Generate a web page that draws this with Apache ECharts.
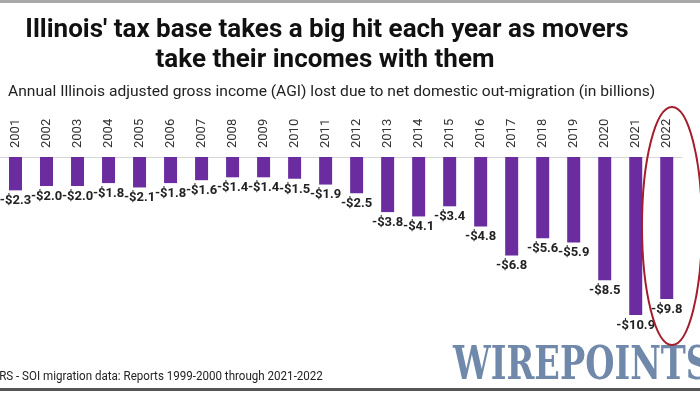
<!DOCTYPE html>
<html><head><meta charset="utf-8">
<script src="https://cdn.jsdelivr.net/npm/echarts@6/dist/echarts.min.js"></script>
<style>html,body{margin:0;padding:0;background:#fff}#c{width:700px;height:394px}</style>
</head><body><div id="c"></div>
<script>
var years = ['2001','2002','2003','2004','2005','2006','2007','2008','2009','2010','2011','2012','2013','2014','2015','2016','2017','2018','2019','2020','2021','2022'];
var agiLost = [-2.3,-2.0,-2.0,-1.8,-2.1,-1.8,-1.6,-1.4,-1.4,-1.5,-1.9,-2.5,-3.8,-4.1,-3.4,-4.8,-6.8,-5.6,-5.9,-8.5,-10.9,-9.8];
var titleLines = ["Illinois' tax base takes a big hit each year as movers", "take their incomes with them"];
var subtitle = "Annual Illinois adjusted gross income (AGI) lost due to net domestic out-migration (in billions)";
var source = "IRS - SOI migration data: Reports 1999-2000 through 2021-2022";

var chart = echarts.init(document.getElementById('c'));
chart.setOption({
  animation: false,
  backgroundColor: '#fff',
  grid: {left: -10.75, width: 693, top: 157, height: 174, containLabel: false},
  xAxis: {
    type: 'category', data: years, position: 'top',
    axisLine: {lineStyle: {color: '#d6d6d6', width: 1}},
    axisTick: {show: false},
    axisLabel: {rotate: 90, margin: 9, color: '#333', fontSize: 13, fontFamily: 'Roboto', interval: 0}
  },
  yAxis: {type: 'value', min: -12, max: 0, show: false, splitLine: {show: false}},
  series: [{
    type: 'bar', data: agiLost, barWidth: 13,
    itemStyle: {color: '#6a2c9f'},
    label: {
      show: true, position: 'bottom', distance: 4,
      color: '#222', fontSize: 13, fontWeight: 'bold', fontFamily: 'Roboto',
      formatter: function (p) { return '-$' + Math.abs(p.value).toFixed(1); }
    }
  }],
  graphic: [
    {type: 'rect', shape: {x: 0, y: 0, width: 700, height: 3}, style: {fill: '#a8a8a8'}},
    {type: 'rect', shape: {x: 0, y: 388, width: 700, height: 3}, style: {fill: '#555'}},
    {type: 'text', x: 327, y: 31, scaleX: 1.04, style: {text: titleLines[0], font: 'bold 25px Roboto', fill: '#111', textAlign: 'center', textVerticalAlign: 'middle'}},
    {type: 'text', x: 325, y: 61, scaleX: 1.04, style: {text: titleLines[1], font: 'bold 25px Roboto', fill: '#111', textAlign: 'center', textVerticalAlign: 'middle'}},
    {type: 'text', x: 8, y: 92, scaleX: 1.04, style: {text: subtitle, font: '15px Roboto', fill: '#222', textAlign: 'left', textVerticalAlign: 'middle'}},
    {type: 'text', x: -4, y: 377, scaleX: 0.965, style: {text: source, font: '12px Roboto', fill: '#222', textAlign: 'left', textVerticalAlign: 'middle'}},
    {type: 'text', x: 453, y: 367, scaleX: 0.73, style: {text: 'WIREPOINTS', font: 'bold 46px "DejaVu Serif"', fill: '#7089ab', textAlign: 'left', textVerticalAlign: 'middle'}},
    {type: 'ellipse', shape: {cx: 672, cy: 226, rx: 30, ry: 119}, style: {fill: 'none', stroke: '#a31d2c', lineWidth: 2}, z: 100}
  ]
});
</script></body></html>
